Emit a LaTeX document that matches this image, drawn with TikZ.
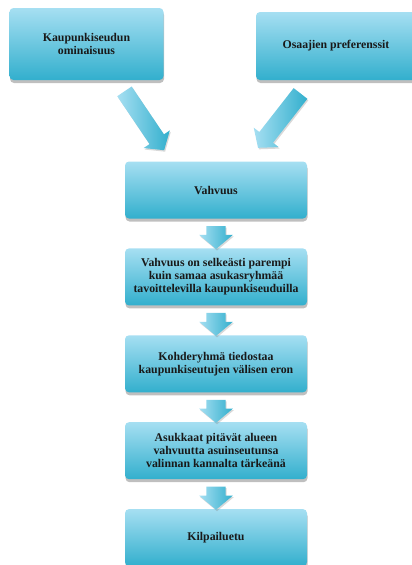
\documentclass[tikz,border=0pt]{standalone}
\usepackage{tikz}
\usepackage{fontspec}
\setmainfont{Liberation Serif}
\usetikzlibrary{shapes, shapes.arrows, positioning, shadows, calc}
\definecolor{boxtop}{RGB}{166,223,242}
\definecolor{boxbottom}{RGB}{50,175,205}

\begin{document}
\begin{tikzpicture}[
    x=1pt, y=1pt,
    node distance=29.5pt,
    box/.style={rectangle, rounded corners=4pt, top color=boxtop, bottom color=boxbottom,
        minimum width=182pt, minimum height=57pt, align=center, text=black!90,
        font=\fontsize{11.8}{13}\selectfont\bfseries,
        drop shadow={shadow xshift=0.5pt, shadow yshift=-3pt, opacity=0.5}},
    flow arrow/.style={single arrow, left color=boxtop, right color=boxbottom,
        inner xsep=0pt, inner ysep=9.5pt, minimum width=25pt, minimum height=23pt,
        single arrow tip angle=100,
        drop shadow={shadow xshift=1pt, shadow yshift=-1.5pt, opacity=0.3}},
    big arrow/.style={flow arrow, inner ysep=8.5pt, minimum width=27pt}]

\useasboundingbox (0,0) rectangle (412,-565);

% Top level
\node[box, minimum width=154pt, minimum height=72pt] (kaupunki) at (86.5,-44) {Kaupunkiseudun\\ominaisuus};
\node[box, minimum width=160pt, minimum height=68pt] (osaajat) at (336,-46) {Osaajien preferenssit};

% Chain
\node[box] (vahvuus) at (216,-190) {Vahvuus};
\node[box, below=of vahvuus] (parempi) {Vahvuus on selkeästi parempi\\kuin samaa asukasryhmää\\tavoittelevilla kaupunkiseuduilla};
\node[box, below=of parempi] (ero) {Kohderyhmä tiedostaa\\kaupunkiseutujen välisen eron};
\node[box, below=of ero] (asukkaat) {Asukkaat pitävät alueen\\vahvuutta asuinseutunsa\\valinnan kannalta tärkeänä};
\node[box, below=of asukkaat] (kilpailuetu) {Kilpailuetu};

% Arrows into Vahvuus
\node[big arrow, rotate=-56, minimum height=71pt] (nuoli1) at ($(kaupunki.south east)!0.5!(vahvuus.north west)+(-2,3)$) {};
\node[big arrow, rotate=-128, minimum height=69pt] (nuoli2) at ($(osaajat.south west)!0.5!(vahvuus.north east)+(0,3)$) {};

% Arrows down the chain
\node[flow arrow, rotate=-90] (nuoli3) at ($(vahvuus.south)!0.5!(parempi.north)$) {};
\node[flow arrow, rotate=-90] (nuoli4) at ($(parempi.south)!0.5!(ero.north)$) {};
\node[flow arrow, rotate=-90] (nuoli5) at ($(ero.south)!0.5!(asukkaat.north)$) {};
\node[flow arrow, rotate=-90] (nuoli6) at ($(asukkaat.south)!0.5!(kilpailuetu.north)$) {};

\end{tikzpicture}
\end{document}
